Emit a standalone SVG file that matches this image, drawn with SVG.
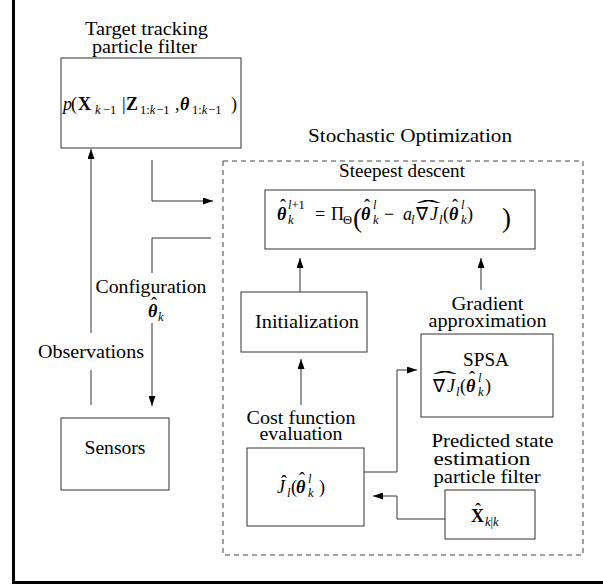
<svg xmlns="http://www.w3.org/2000/svg" width="603" height="586" viewBox="0 0 603 586">
  <style>
    text { font-family: "Liberation Serif", "Times New Roman", serif; font-size: 18px; fill: #000; }
    .c { text-anchor: middle; }
    .i { font-style: italic; }
    .bi { font-style: italic; font-weight: bold; }
    .bf { font-weight: bold; }
    .s { font-size: 12.5px; }
    .big { font-size: 27px; }
    .box { fill: #fff; stroke: #333; stroke-width: 1; }
    .dash { fill: none; stroke: #444; stroke-width: 1; stroke-dasharray: 5 4; }
    .wire { fill: none; stroke: #333; stroke-width: 1; }
    .arr { marker-end: url(#ah); }
  </style>
  <defs>
    <marker id="ah" markerUnits="userSpaceOnUse" markerWidth="10" markerHeight="7" refX="10" refY="3.5" orient="auto">
      <path d="M0,0 L10,3.5 L0,7 z" fill="#000"/>
    </marker>
  </defs>

  <rect width="603" height="586" fill="#fff"/>
  <!-- frame -->
  <path d="M13.5,0 V582.5 H603" fill="none" stroke="#000" stroke-width="3"/>

  <!-- optimisation block outline -->
  <g id="stochastic-optimization">
    <rect class="dash" x="223" y="161" width="360" height="394"/>
    <text class="c" x="410" y="142" textLength="204" lengthAdjust="spacingAndGlyphs">Stochastic Optimization</text>
    <text class="c" x="402" y="177" textLength="126" lengthAdjust="spacingAndGlyphs">Steepest descent</text>
  </g>

  <g id="connectors">
    <!-- observations -->
    <path class="wire" d="M91,405 V370"/>
    <path class="wire arr" d="M91,333 V149"/>
    <!-- filter to optimisation -->
    <path class="wire arr" d="M152,160 V201 H213"/>
    <!-- configuration to sensors -->
    <path class="wire" d="M211,238 H152 V273"/>
    <path class="wire arr" d="M152,323 V406"/>
    <!-- into steepest descent -->
    <path class="wire arr" d="M300,292 V258"/>
    <path class="wire arr" d="M481,290 V258"/>
    <!-- cost to initialization -->
    <path class="wire arr" d="M301,405 V359"/>
    <!-- cost to SPSA -->
    <path class="wire arr" d="M364,472 H397 V370 H417"/>
    <!-- predicted state to cost -->
    <path class="wire arr" d="M445,519 H397 V496 H373"/>
  </g>

  <g id="target-tracking">
    <text class="c" x="146.5" y="35" textLength="123" lengthAdjust="spacingAndGlyphs">Target tracking</text>
    <text class="c" x="144.5" y="53" textLength="105" lengthAdjust="spacingAndGlyphs">particle filter</text>
    <rect class="box" x="61" y="58" width="180" height="90"/>
    <text class="i" x="63" y="110">p</text>
    <text x="71" y="110">(</text>
    <text class="bf" x="78" y="110">X</text>
    <text class="s" y="114"><tspan class="i" x="95">k</tspan><tspan x="103">−1</tspan></text>
    <text x="122" y="110">|</text>
    <text class="bf" x="126" y="110">Z</text>
    <text class="s" y="114"><tspan x="140">1:</tspan><tspan class="i">k</tspan><tspan dx="1">−1</tspan></text>
    <text x="175" y="110">,</text>
    <text class="bi" x="180" y="110">θ</text>
    <text class="s" y="114"><tspan x="192">1:</tspan><tspan class="i">k</tspan><tspan dx="1">−1</tspan></text>
    <text x="231" y="110">)</text>
  </g>

  <g id="steepest-descent">
    <rect class="box" x="265" y="190" width="270" height="59"/>
    <text class="bi" x="277" y="220">θ</text>
    <text x="280" y="212">ˆ</text>
    <text class="s" y="209"><tspan class="i" x="288">l</tspan><tspan>+1</tspan></text>
    <text class="s i" x="288" y="224">k</text>
    <text x="315" y="220">=</text>
    <text x="331" y="220">Π</text>
    <text class="s" x="343" y="224">Θ</text>
    <text class="big" x="353" y="227">(</text>
    <text class="bi" x="361" y="220">θ</text>
    <text x="364" y="212">ˆ</text>
    <text class="s i" x="373" y="209">l</text>
    <text class="s i" x="373" y="224">k</text>
    <text x="384" y="220">−</text>
    <text class="i" x="403" y="220">a</text>
    <text class="s i" x="411" y="224">l</text>
    <text x="416" y="220">∇</text>
    <text class="i" x="430" y="220">J</text>
    <text class="c" x="0" y="0" transform="translate(428.5,213) scale(4,1)">ˆ</text>
    <text class="s i" x="439" y="224">l</text>
    <text x="443" y="220">(</text>
    <text class="bi" x="449" y="220">θ</text>
    <text x="452" y="212">ˆ</text>
    <text class="s i" x="461" y="209">l</text>
    <text class="s i" x="461" y="224">k</text>
    <text x="467" y="220">)</text>
    <text class="big" x="502" y="227">)</text>
  </g>

  <g id="initialization">
    <rect class="box" x="241" y="292" width="126" height="60"/>
    <text class="c" x="307" y="328" textLength="104" lengthAdjust="spacingAndGlyphs">Initialization</text>
  </g>

  <g id="spsa">
    <text class="c" x="487.5" y="310" textLength="72" lengthAdjust="spacingAndGlyphs">Gradient</text>
    <text class="c" x="487.5" y="327" textLength="118" lengthAdjust="spacingAndGlyphs">approximation</text>
    <rect class="box" x="421" y="334" width="132" height="83"/>
    <text class="c" x="486" y="366" textLength="46" lengthAdjust="spacingAndGlyphs">SPSA</text>
    <text x="433" y="392">∇</text>
    <text class="i" x="447" y="392">J</text>
    <text class="c" x="0" y="0" transform="translate(445,384) scale(4,1)">ˆ</text>
    <text class="s i" x="456" y="396">l</text>
    <text x="460" y="392">(</text>
    <text class="bi" x="466" y="392">θ</text>
    <text x="469" y="384">ˆ</text>
    <text class="s i" x="478" y="382">l</text>
    <text class="s i" x="478" y="396">k</text>
    <text x="485" y="392">)</text>
  </g>

  <g id="sensors">
    <rect class="box" x="61" y="418" width="108" height="72"/>
    <text class="c" x="115" y="454" textLength="61" lengthAdjust="spacingAndGlyphs">Sensors</text>
  </g>

  <g id="labels">
    <text class="c" x="151" y="293" textLength="111" lengthAdjust="spacingAndGlyphs">Configuration</text>
    <text class="bi" x="148" y="317">θ</text>
    <text x="151" y="310">ˆ</text>
    <text class="s i" x="158" y="321">k</text>
    <text class="c" x="91" y="358" textLength="106" lengthAdjust="spacingAndGlyphs">Observations</text>
  </g>

  <g id="cost-function">
    <text class="c" x="301" y="424" textLength="109" lengthAdjust="spacingAndGlyphs">Cost function</text>
    <text class="c" x="301" y="440" textLength="83" lengthAdjust="spacingAndGlyphs">evaluation</text>
    <rect class="box" x="247" y="448" width="117" height="78"/>
    <text class="i" x="277" y="493">J</text>
    <text x="281" y="488">ˆ</text>
    <text class="s i" x="287" y="497">l</text>
    <text x="291" y="493">(</text>
    <text class="bi" x="296" y="493">θ</text>
    <text x="299" y="485">ˆ</text>
    <text class="s i" x="308" y="483">l</text>
    <text class="s i" x="308" y="497">k</text>
    <text x="319" y="493">)</text>
  </g>

  <g id="predicted-state">
    <text class="c" x="492.5" y="447" textLength="122" lengthAdjust="spacingAndGlyphs">Predicted state</text>
    <text class="c" x="482" y="465" textLength="97" lengthAdjust="spacingAndGlyphs">estimation</text>
    <text class="c" x="487" y="483" textLength="107" lengthAdjust="spacingAndGlyphs">particle filter</text>
    <rect class="box" x="445" y="490" width="90" height="49"/>
    <text class="bf" x="471" y="522">X</text>
    <text x="475" y="516">ˆ</text>
    <text class="s" y="526"><tspan class="i" x="485">k</tspan><tspan>|</tspan><tspan class="i">k</tspan></text>
  </g>
</svg>
